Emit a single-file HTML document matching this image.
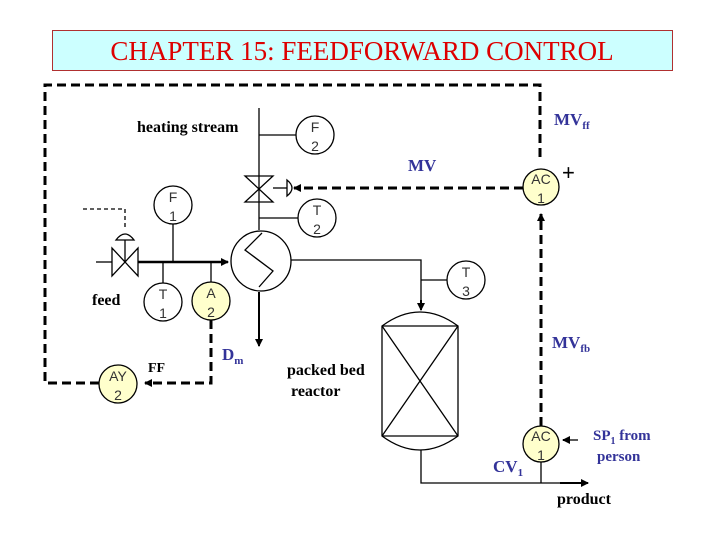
<!DOCTYPE html>
<html><head><meta charset="utf-8"><style>
body{margin:0;background:#fff}
svg{display:block}
.t{font-family:"Liberation Serif",serif;font-weight:bold}
.b{fill:#333399}
.c{font-family:"Liberation Sans",sans-serif;font-size:14px;fill:#333}
</style></head><body>
<svg width="720" height="540" viewBox="0 0 720 540" xmlns="http://www.w3.org/2000/svg">
<defs>
<marker id="a" markerWidth="8" markerHeight="8" refX="7" refY="4" orient="auto" markerUnits="userSpaceOnUse"><path d="M0,0 L8,4 L0,8 z" fill="#000"/></marker>
</defs>
<rect x="52.5" y="30.5" width="620" height="40" fill="#ccffff" stroke="#b03030"/>
<text x="362" y="60" text-anchor="middle" font-family="Liberation Serif,serif" font-size="27" fill="#dd0000">CHAPTER 15: FEEDFORWARD CONTROL</text>

<g fill="none" stroke="#000" stroke-width="3" stroke-dasharray="9,5">
<path d="M99,383 L45,383 L45,85 L540,85 L540,160"/>
<path d="M211,320 L211,383 L145,383" marker-end="url(#a)"/>
<path d="M523,188 L294,188" marker-end="url(#a)"/>
<path d="M541,426 L541,214" marker-end="url(#a)"/>
</g>
<g fill="none" stroke="#000" stroke-width="1.3">
<path d="M83,209 L125,209 L125,230" stroke-dasharray="4,3"/>
<path d="M259,108 L259,230"/>
<path d="M259,135 L296,135"/>
<path d="M259,218 L298,218"/>
<path d="M245,176 L273,176 L245,202 L273,202 Z"/>
<path d="M273,188 L287,188"/>
<path d="M287,180 Q297,188 287,196 Z"/>
<path d="M291,260 L421,260 L421,305"/>
<path d="M421,280 L447,280"/>
<path d="M96,262 L112,262"/>
<path d="M112,248 L112,276 L138,248 L138,276 Z"/>
<path d="M125,262 L125,240"/>
<path d="M116,240 Q125,228 134,240 Z"/>
<path d="M173,224 L173,262"/>
<path d="M163,262 L163,283"/>
<path d="M211,262 L211,282"/>
<path d="M259,292 L259,340"/>
<path d="M421,450 L421,483 L584,483"/>
<path d="M541,462 L541,483"/>
<path d="M578,440 L566,440"/>
<circle cx="261" cy="261" r="30"/>
<path d="M262,233 L245,250 L273,271 L259,287"/>
<path d="M382,326 Q420,298 458,326 L458,436 Q420,464 382,436 Z"/>
<path d="M382,326 L458,326 M382,436 L458,436 M382,326 L458,436 M458,326 L382,436"/>
</g>
<path d="M138,262 L228,262" stroke="#000" stroke-width="2.5" marker-end="url(#a)"/>
<path d="M259,292 L259,346" stroke="#000" stroke-width="2" marker-end="url(#a)"/>
<path d="M421,300 L421,310" stroke="#000" stroke-width="2" marker-end="url(#a)"/>
<path d="M560,483 L588,483" stroke="#000" stroke-width="2" marker-end="url(#a)"/>
<path d="M570,440 L563,440" stroke="#000" stroke-width="2" marker-end="url(#a)"/>

<g stroke="#000" stroke-width="1.3">
<circle cx="315" cy="135" r="19" fill="#fff"/>
<circle cx="317" cy="218" r="19" fill="#fff"/>
<circle cx="173" cy="205" r="19" fill="#fff"/>
<circle cx="163" cy="302" r="19" fill="#fff"/>
<circle cx="211" cy="301" r="19" fill="#ffffcc"/>
<circle cx="118" cy="384" r="19" fill="#ffffcc"/>
<circle cx="466" cy="280" r="19" fill="#fff"/>
<circle cx="541" cy="187" r="18" fill="#ffffcc"/>
<circle cx="541" cy="444" r="18" fill="#ffffcc"/>
</g>
<g class="c" text-anchor="middle">
<text x="315" y="132">F</text><text x="315" y="151">2</text>
<text x="317" y="215">T</text><text x="317" y="234">2</text>
<text x="173" y="202">F</text><text x="173" y="221">1</text>
<text x="163" y="299">T</text><text x="163" y="318">1</text>
<text x="211" y="298">A</text><text x="211" y="317">2</text>
<text x="118" y="381">AY</text><text x="118" y="400">2</text>
<text x="466" y="277">T</text><text x="466" y="296">3</text>
<text x="541" y="184">AC</text><text x="541" y="203">1</text>
<text x="541" y="441">AC</text><text x="541" y="460">1</text>
</g>
<g class="t" font-size="16">
<text x="137" y="132">heating stream</text>
<text x="92" y="305">feed</text>
<text x="148" y="372" font-size="14">FF</text>
<text x="287" y="375">packed bed</text>
<text x="291" y="396">reactor</text>
<text x="557" y="504">product</text>
</g>
<g class="t b" font-size="17">
<text x="554" y="125">MV<tspan font-size="11" dy="4">ff</tspan></text>
<text x="408" y="171">MV</text>
<text x="552" y="348">MV<tspan font-size="11" dy="4">fb</tspan></text>
<text x="222" y="360">D<tspan font-size="11" dy="4">m</tspan></text>
<text x="493" y="472">CV<tspan font-size="11" dy="4">1</tspan></text>
<text x="593" y="440" font-size="15">SP<tspan font-size="10" dy="4">1</tspan><tspan dy="-4"> from</tspan></text>
<text x="597" y="461" font-size="15">person</text>
</g>
<text x="562" y="180" font-family="Liberation Sans,sans-serif" font-size="22">+</text>
</svg>
</body></html>
